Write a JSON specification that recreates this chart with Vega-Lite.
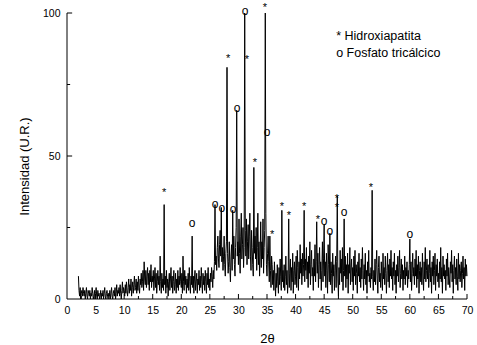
{
"$schema": "https://vega.github.io/schema/vega-lite/v6.json",
"autosize": {"type": "none"},
"width": 400,
"height": 286,
"padding": {"left": 67, "top": 13, "right": 10, "bottom": 46},
"background": "white",
"config": {"view": {"stroke": null}, "font": "Liberation Sans"},
"datasets": {
"xrd": [
{"t":2,"i":8},{"t":2.1,"i":3},{"t":2.2,"i":1},{"t":2.3,"i":4},{"t":2.4,"i":0},{"t":2.5,"i":2},{"t":2.6,"i":3},{"t":2.7,"i":1},{"t":2.8,"i":4},{"t":2.9,"i":2},
{"t":3,"i":1},{"t":3.1,"i":3},{"t":3.2,"i":0},{"t":3.3,"i":2},{"t":3.4,"i":4},{"t":3.5,"i":1},{"t":3.6,"i":0},{"t":3.7,"i":3},{"t":3.8,"i":2},{"t":3.9,"i":1},
{"t":4,"i":3},{"t":4.1,"i":0},{"t":4.2,"i":2},{"t":4.3,"i":1},{"t":4.4,"i":4},{"t":4.5,"i":2},{"t":4.6,"i":0},{"t":4.7,"i":1},{"t":4.8,"i":3},{"t":4.9,"i":0},
{"t":5,"i":2},{"t":5.1,"i":4},{"t":5.2,"i":1},{"t":5.3,"i":0},{"t":5.4,"i":3},{"t":5.5,"i":1},{"t":5.6,"i":2},{"t":5.7,"i":0},{"t":5.8,"i":1},{"t":5.9,"i":3},
{"t":6,"i":0},{"t":6.1,"i":2},{"t":6.2,"i":1},{"t":6.3,"i":3},{"t":6.4,"i":0},{"t":6.5,"i":2},{"t":6.6,"i":4},{"t":6.7,"i":1},{"t":6.8,"i":0},{"t":6.9,"i":2},
{"t":7,"i":3},{"t":7.1,"i":1},{"t":7.2,"i":0},{"t":7.3,"i":2},{"t":7.4,"i":1},{"t":7.5,"i":3},{"t":7.6,"i":0},{"t":7.7,"i":2},{"t":7.8,"i":4},{"t":7.9,"i":1},
{"t":8,"i":0},{"t":8.1,"i":2},{"t":8.2,"i":3},{"t":8.3,"i":1},{"t":8.4,"i":4},{"t":8.5,"i":0},{"t":8.6,"i":2},{"t":8.7,"i":5},{"t":8.8,"i":1},{"t":8.9,"i":3},
{"t":9,"i":2},{"t":9.1,"i":4},{"t":9.2,"i":1},{"t":9.3,"i":5},{"t":9.4,"i":2},{"t":9.5,"i":0},{"t":9.6,"i":3},{"t":9.7,"i":6},{"t":9.8,"i":2},{"t":9.9,"i":4},
{"t":10,"i":3},{"t":10.1,"i":1},{"t":10.2,"i":5},{"t":10.3,"i":2},{"t":10.4,"i":6},{"t":10.5,"i":3},{"t":10.6,"i":1},{"t":10.7,"i":4},{"t":10.8,"i":7},{"t":10.9,"i":2},
{"t":11,"i":5},{"t":11.1,"i":3},{"t":11.2,"i":7},{"t":11.3,"i":1},{"t":11.4,"i":4},{"t":11.5,"i":6},{"t":11.6,"i":2},{"t":11.7,"i":5},{"t":11.8,"i":8},{"t":11.9,"i":3},
{"t":12,"i":4},{"t":12.1,"i":7},{"t":12.2,"i":2},{"t":12.3,"i":6},{"t":12.4,"i":3},{"t":12.5,"i":8},{"t":12.6,"i":4},{"t":12.7,"i":2},{"t":12.8,"i":7},{"t":12.9,"i":5},
{"t":13,"i":9},{"t":13.1,"i":4},{"t":13.2,"i":6},{"t":13.3,"i":10},{"t":13.4,"i":3},{"t":13.5,"i":13},{"t":13.6,"i":7},{"t":13.7,"i":5},{"t":13.8,"i":10},{"t":13.9,"i":4},
{"t":14,"i":8},{"t":14.1,"i":11},{"t":14.2,"i":5},{"t":14.3,"i":9},{"t":14.4,"i":3},{"t":14.5,"i":10},{"t":14.6,"i":6},{"t":14.7,"i":12},{"t":14.8,"i":4},{"t":14.9,"i":8},
{"t":15,"i":6},{"t":15.1,"i":10},{"t":15.2,"i":3},{"t":15.3,"i":7},{"t":15.4,"i":11},{"t":15.5,"i":4},{"t":15.6,"i":9},{"t":15.7,"i":2},{"t":15.8,"i":6},{"t":15.9,"i":10},
{"t":16,"i":5},{"t":16.1,"i":8},{"t":16.2,"i":3},{"t":16.3,"i":15},{"t":16.4,"i":6},{"t":16.5,"i":2},{"t":16.6,"i":9},{"t":16.7,"i":4},{"t":16.8,"i":7},{"t":16.9,"i":3},
{"t":17,"i":33},{"t":17.1,"i":5},{"t":17.2,"i":8},{"t":17.3,"i":2},{"t":17.4,"i":10},{"t":17.5,"i":4},{"t":17.6,"i":7},{"t":17.7,"i":1},{"t":17.8,"i":6},{"t":17.9,"i":9},
{"t":18,"i":3},{"t":18.1,"i":7},{"t":18.2,"i":11},{"t":18.3,"i":4},{"t":18.4,"i":8},{"t":18.5,"i":2},{"t":18.6,"i":6},{"t":18.7,"i":10},{"t":18.8,"i":3},{"t":18.9,"i":5},
{"t":19,"i":9},{"t":19.1,"i":2},{"t":19.2,"i":7},{"t":19.3,"i":4},{"t":19.4,"i":10},{"t":19.5,"i":3},{"t":19.6,"i":8},{"t":19.7,"i":5},{"t":19.8,"i":11},{"t":19.9,"i":6},
{"t":20,"i":4},{"t":20.1,"i":9},{"t":20.2,"i":2},{"t":20.3,"i":15},{"t":20.4,"i":6},{"t":20.5,"i":3},{"t":20.6,"i":10},{"t":20.7,"i":5},{"t":20.8,"i":8},{"t":20.9,"i":2},
{"t":21,"i":7},{"t":21.1,"i":4},{"t":21.2,"i":9},{"t":21.3,"i":3},{"t":21.4,"i":11},{"t":21.5,"i":6},{"t":21.6,"i":2},{"t":21.7,"i":8},{"t":21.8,"i":5},{"t":21.9,"i":22},
{"t":22,"i":4},{"t":22.1,"i":8},{"t":22.2,"i":2},{"t":22.3,"i":7},{"t":22.4,"i":10},{"t":22.5,"i":3},{"t":22.6,"i":6},{"t":22.7,"i":9},{"t":22.8,"i":2},{"t":22.9,"i":7},
{"t":23,"i":5},{"t":23.1,"i":10},{"t":23.2,"i":3},{"t":23.3,"i":8},{"t":23.4,"i":4},{"t":23.5,"i":11},{"t":23.6,"i":6},{"t":23.7,"i":2},{"t":23.8,"i":9},{"t":23.9,"i":5},
{"t":24,"i":8},{"t":24.1,"i":3},{"t":24.2,"i":10},{"t":24.3,"i":6},{"t":24.4,"i":2},{"t":24.5,"i":9},{"t":24.6,"i":5},{"t":24.7,"i":11},{"t":24.8,"i":4},{"t":24.9,"i":7},
{"t":25,"i":3},{"t":25.1,"i":9},{"t":25.2,"i":6},{"t":25.3,"i":11},{"t":25.4,"i":8},{"t":25.5,"i":4},{"t":25.6,"i":10},{"t":25.7,"i":7},{"t":25.8,"i":13},{"t":25.9,"i":33},
{"t":26,"i":12},{"t":26.1,"i":15},{"t":26.2,"i":10},{"t":26.3,"i":18},{"t":26.4,"i":22},{"t":26.5,"i":14},{"t":26.6,"i":11},{"t":26.7,"i":19},{"t":26.8,"i":24},{"t":26.9,"i":15},
{"t":27,"i":32},{"t":27.1,"i":13},{"t":27.2,"i":18},{"t":27.3,"i":10},{"t":27.4,"i":15},{"t":27.5,"i":22},{"t":27.6,"i":12},{"t":27.7,"i":8},{"t":27.8,"i":16},{"t":27.9,"i":20},
{"t":28,"i":81},{"t":28.1,"i":16},{"t":28.2,"i":9},{"t":28.3,"i":13},{"t":28.4,"i":20},{"t":28.5,"i":11},{"t":28.6,"i":6},{"t":28.7,"i":15},{"t":28.8,"i":19},{"t":28.9,"i":10},
{"t":29,"i":31},{"t":29.1,"i":14},{"t":29.2,"i":22},{"t":29.3,"i":12},{"t":29.4,"i":8},{"t":29.5,"i":18},{"t":29.6,"i":25},{"t":29.7,"i":66},{"t":29.8,"i":15},{"t":29.9,"i":20},
{"t":30,"i":12},{"t":30.1,"i":28},{"t":30.2,"i":16},{"t":30.3,"i":9},{"t":30.4,"i":22},{"t":30.5,"i":30},{"t":30.6,"i":14},{"t":30.7,"i":19},{"t":30.8,"i":25},{"t":30.9,"i":11},
{"t":31,"i":18},{"t":31.1,"i":100},{"t":31.2,"i":24},{"t":31.3,"i":15},{"t":31.4,"i":28},{"t":31.5,"i":12},{"t":31.6,"i":20},{"t":31.7,"i":26},{"t":31.8,"i":14},{"t":31.9,"i":22},
{"t":32,"i":30},{"t":32.1,"i":15},{"t":32.2,"i":10},{"t":32.3,"i":24},{"t":32.4,"i":18},{"t":32.5,"i":12},{"t":32.6,"i":8},{"t":32.7,"i":46},{"t":32.8,"i":16},{"t":32.9,"i":22},
{"t":33,"i":14},{"t":33.1,"i":25},{"t":33.2,"i":10},{"t":33.3,"i":18},{"t":33.4,"i":30},{"t":33.5,"i":12},{"t":33.6,"i":20},{"t":33.7,"i":8},{"t":33.8,"i":15},{"t":33.9,"i":27},
{"t":34,"i":11},{"t":34.1,"i":20},{"t":34.2,"i":14},{"t":34.3,"i":28},{"t":34.4,"i":9},{"t":34.5,"i":18},{"t":34.6,"i":24},{"t":34.7,"i":100},{"t":34.8,"i":30},{"t":34.9,"i":12},
{"t":35,"i":8},{"t":35.1,"i":16},{"t":35.2,"i":22},{"t":35.3,"i":13},{"t":35.4,"i":6},{"t":35.5,"i":22},{"t":35.6,"i":10},{"t":35.7,"i":4},{"t":35.8,"i":15},{"t":35.9,"i":12},
{"t":36,"i":5},{"t":36.1,"i":10},{"t":36.2,"i":3},{"t":36.3,"i":13},{"t":36.4,"i":7},{"t":36.5,"i":1},{"t":36.6,"i":9},{"t":36.7,"i":4},{"t":36.8,"i":12},{"t":36.9,"i":6},
{"t":37,"i":2},{"t":37.1,"i":11},{"t":37.2,"i":5},{"t":37.3,"i":14},{"t":37.4,"i":8},{"t":37.5,"i":3},{"t":37.6,"i":31},{"t":37.7,"i":6},{"t":37.8,"i":10},{"t":37.9,"i":4},
{"t":38,"i":12},{"t":38.1,"i":3},{"t":38.2,"i":8},{"t":38.3,"i":15},{"t":38.4,"i":5},{"t":38.5,"i":10},{"t":38.6,"i":2},{"t":38.7,"i":7},{"t":38.8,"i":28},{"t":38.9,"i":4},
{"t":39,"i":9},{"t":39.1,"i":14},{"t":39.2,"i":3},{"t":39.3,"i":11},{"t":39.4,"i":6},{"t":39.5,"i":16},{"t":39.6,"i":2},{"t":39.7,"i":10},{"t":39.8,"i":13},{"t":39.9,"i":5},
{"t":40,"i":8},{"t":40.1,"i":15},{"t":40.2,"i":4},{"t":40.3,"i":17},{"t":40.4,"i":11},{"t":40.5,"i":3},{"t":40.6,"i":13},{"t":40.7,"i":7},{"t":40.8,"i":19},{"t":40.9,"i":9},
{"t":41,"i":14},{"t":41.1,"i":5},{"t":41.2,"i":16},{"t":41.3,"i":8},{"t":41.4,"i":12},{"t":41.5,"i":31},{"t":41.6,"i":6},{"t":41.7,"i":14},{"t":41.8,"i":10},{"t":41.9,"i":18},
{"t":42,"i":7},{"t":42.1,"i":13},{"t":42.2,"i":4},{"t":42.3,"i":15},{"t":42.4,"i":9},{"t":42.5,"i":20},{"t":42.6,"i":5},{"t":42.7,"i":12},{"t":42.8,"i":17},{"t":42.9,"i":8},
{"t":43,"i":11},{"t":43.1,"i":3},{"t":43.2,"i":14},{"t":43.3,"i":8},{"t":43.4,"i":19},{"t":43.5,"i":6},{"t":43.6,"i":13},{"t":43.7,"i":27},{"t":43.8,"i":9},{"t":43.9,"i":16},
{"t":44,"i":4},{"t":44.1,"i":12},{"t":44.2,"i":18},{"t":44.3,"i":7},{"t":44.4,"i":13},{"t":44.5,"i":3},{"t":44.6,"i":10},{"t":44.7,"i":20},{"t":44.8,"i":6},{"t":44.9,"i":14},
{"t":45,"i":26},{"t":45.1,"i":8},{"t":45.2,"i":13},{"t":45.3,"i":4},{"t":45.4,"i":16},{"t":45.5,"i":10},{"t":45.6,"i":2},{"t":45.7,"i":19},{"t":45.8,"i":12},{"t":45.9,"i":6},
{"t":46,"i":23},{"t":46.1,"i":5},{"t":46.2,"i":13},{"t":46.3,"i":9},{"t":46.4,"i":2},{"t":46.5,"i":16},{"t":46.6,"i":8},{"t":46.7,"i":12},{"t":46.8,"i":3},{"t":46.9,"i":10},
{"t":47,"i":15},{"t":47.1,"i":4},{"t":47.2,"i":13},{"t":47.3,"i":36},{"t":47.4,"i":7},{"t":47.5,"i":1},{"t":47.6,"i":11},{"t":47.7,"i":5},{"t":47.8,"i":17},{"t":47.9,"i":9},
{"t":48,"i":14},{"t":48.1,"i":6},{"t":48.2,"i":18},{"t":48.3,"i":3},{"t":48.4,"i":10},{"t":48.5,"i":28},{"t":48.6,"i":8},{"t":48.7,"i":15},{"t":48.8,"i":4},{"t":48.9,"i":12},
{"t":49,"i":7},{"t":49.1,"i":16},{"t":49.2,"i":2},{"t":49.3,"i":12},{"t":49.4,"i":9},{"t":49.5,"i":18},{"t":49.6,"i":5},{"t":49.7,"i":11},{"t":49.8,"i":14},{"t":49.9,"i":6},
{"t":50,"i":11},{"t":50.1,"i":3},{"t":50.2,"i":15},{"t":50.3,"i":8},{"t":50.4,"i":17},{"t":50.5,"i":5},{"t":50.6,"i":12},{"t":50.7,"i":9},{"t":50.8,"i":2},{"t":50.9,"i":13},
{"t":51,"i":8},{"t":51.1,"i":16},{"t":51.2,"i":6},{"t":51.3,"i":11},{"t":51.4,"i":4},{"t":51.5,"i":14},{"t":51.6,"i":7},{"t":51.7,"i":18},{"t":51.8,"i":10},{"t":51.9,"i":3},
{"t":52,"i":12},{"t":52.1,"i":7},{"t":52.2,"i":16},{"t":52.3,"i":5},{"t":52.4,"i":10},{"t":52.5,"i":2},{"t":52.6,"i":13},{"t":52.7,"i":8},{"t":52.8,"i":17},{"t":52.9,"i":6},
{"t":53,"i":9},{"t":53.1,"i":4},{"t":53.2,"i":11},{"t":53.3,"i":7},{"t":53.4,"i":38},{"t":53.5,"i":8},{"t":53.6,"i":3},{"t":53.7,"i":10},{"t":53.8,"i":6},{"t":53.9,"i":14},
{"t":54,"i":5},{"t":54.1,"i":12},{"t":54.2,"i":17},{"t":54.3,"i":7},{"t":54.4,"i":2},{"t":54.5,"i":11},{"t":54.6,"i":15},{"t":54.7,"i":6},{"t":54.8,"i":9},{"t":54.9,"i":4},
{"t":55,"i":13},{"t":55.1,"i":8},{"t":55.2,"i":3},{"t":55.3,"i":16},{"t":55.4,"i":7},{"t":55.5,"i":11},{"t":55.6,"i":5},{"t":55.7,"i":15},{"t":55.8,"i":9},{"t":55.9,"i":2},
{"t":56,"i":10},{"t":56.1,"i":16},{"t":56.2,"i":6},{"t":56.3,"i":12},{"t":56.4,"i":4},{"t":56.5,"i":14},{"t":56.6,"i":8},{"t":56.7,"i":17},{"t":56.8,"i":7},{"t":56.9,"i":11},
{"t":57,"i":3},{"t":57.1,"i":13},{"t":57.2,"i":8},{"t":57.3,"i":16},{"t":57.4,"i":5},{"t":57.5,"i":10},{"t":57.6,"i":2},{"t":57.7,"i":12},{"t":57.8,"i":8},{"t":57.9,"i":15},
{"t":58,"i":6},{"t":58.1,"i":11},{"t":58.2,"i":17},{"t":58.3,"i":4},{"t":58.4,"i":9},{"t":58.5,"i":14},{"t":58.6,"i":7},{"t":58.7,"i":12},{"t":58.8,"i":3},{"t":58.9,"i":10},
{"t":59,"i":7},{"t":59.1,"i":15},{"t":59.2,"i":5},{"t":59.3,"i":11},{"t":59.4,"i":8},{"t":59.5,"i":13},{"t":59.6,"i":4},{"t":59.7,"i":10},{"t":59.8,"i":7},{"t":59.9,"i":12},
{"t":60,"i":21},{"t":60.1,"i":6},{"t":60.2,"i":13},{"t":60.3,"i":3},{"t":60.4,"i":9},{"t":60.5,"i":16},{"t":60.6,"i":8},{"t":60.7,"i":11},{"t":60.8,"i":5},{"t":60.9,"i":14},
{"t":61,"i":8},{"t":61.1,"i":17},{"t":61.2,"i":4},{"t":61.3,"i":12},{"t":61.4,"i":7},{"t":61.5,"i":15},{"t":61.6,"i":2},{"t":61.7,"i":10},{"t":61.8,"i":13},{"t":61.9,"i":6},
{"t":62,"i":11},{"t":62.1,"i":5},{"t":62.2,"i":16},{"t":62.3,"i":8},{"t":62.4,"i":3},{"t":62.5,"i":13},{"t":62.6,"i":7},{"t":62.7,"i":18},{"t":62.8,"i":6},{"t":62.9,"i":10},
{"t":63,"i":14},{"t":63.1,"i":7},{"t":63.2,"i":12},{"t":63.3,"i":4},{"t":63.4,"i":9},{"t":63.5,"i":17},{"t":63.6,"i":6},{"t":63.7,"i":11},{"t":63.8,"i":2},{"t":63.9,"i":13},
{"t":64,"i":8},{"t":64.1,"i":15},{"t":64.2,"i":5},{"t":64.3,"i":10},{"t":64.4,"i":16},{"t":64.5,"i":3},{"t":64.6,"i":12},{"t":64.7,"i":8},{"t":64.8,"i":14},{"t":64.9,"i":6},
{"t":65,"i":9},{"t":65.1,"i":4},{"t":65.2,"i":13},{"t":65.3,"i":7},{"t":65.4,"i":18},{"t":65.5,"i":6},{"t":65.6,"i":11},{"t":65.7,"i":2},{"t":65.8,"i":15},{"t":65.9,"i":8},
{"t":66,"i":12},{"t":66.1,"i":7},{"t":66.2,"i":10},{"t":66.3,"i":3},{"t":66.4,"i":14},{"t":66.5,"i":8},{"t":66.6,"i":16},{"t":66.7,"i":5},{"t":66.8,"i":11},{"t":66.9,"i":7},
{"t":67,"i":4},{"t":67.1,"i":13},{"t":67.2,"i":9},{"t":67.3,"i":17},{"t":67.4,"i":6},{"t":67.5,"i":12},{"t":67.6,"i":2},{"t":67.7,"i":10},{"t":67.8,"i":15},{"t":67.9,"i":7},
{"t":68,"i":11},{"t":68.1,"i":5},{"t":68.2,"i":14},{"t":68.3,"i":8},{"t":68.4,"i":3},{"t":68.5,"i":16},{"t":68.6,"i":7},{"t":68.7,"i":12},{"t":68.8,"i":6},{"t":68.9,"i":10},
{"t":69,"i":13},{"t":69.1,"i":4},{"t":69.2,"i":9},{"t":69.3,"i":15},{"t":69.4,"i":7},{"t":69.5,"i":11},{"t":69.6,"i":3},{"t":69.7,"i":14},{"t":69.8,"i":8},{"t":69.9,"i":12},
{"t":70,"i":8}
],
"labels": [
{"t":17,"i":38.1,"s":"*"},
{"t":21.9,"i":26.6,"s":"o"},
{"t":25.9,"i":33.2,"s":"o"},
{"t":27.1,"i":31.8,"s":"o"},
{"t":28.2,"i":85,"s":"*"},
{"t":29.05,"i":31.5,"s":"o"},
{"t":29.75,"i":66.8,"s":"o"},
{"t":31.15,"i":100.7,"s":"o"},
{"t":31.5,"i":84.6,"s":"*"},
{"t":32.9,"i":48.6,"s":"*"},
{"t":34.65,"i":102.8,"s":"*"},
{"t":35,"i":58.4,"s":"o"},
{"t":35.9,"i":23.4,"s":"*"},
{"t":37.6,"i":33.2,"s":"*"},
{"t":38.85,"i":30.1,"s":"*"},
{"t":41.5,"i":33.2,"s":"*"},
{"t":43.9,"i":28.7,"s":"*"},
{"t":45,"i":27.3,"s":"o"},
{"t":46,"i":23.8,"s":"o"},
{"t":47.25,"i":36,"s":"*"},
{"t":47.25,"i":33,"s":"*"},
{"t":48.5,"i":30.4,"s":"o"},
{"t":53.2,"i":39.9,"s":"*"},
{"t":60,"i":22.7,"s":"o"}
],
"legend": [
{"t":47.1,"i":90.6,"txt":"* Hidroxiapatita"},
{"t":47.1,"i":84.5,"txt":"o Fosfato tricálcico"}
],
"frame": [
{"g":"ax","t":0,"i":0},{"g":"ax","t":70,"i":0},
{"g":"ay","t":0,"i":0},{"g":"ay","t":0,"i":100},
{"g":"x1","t":2.5,"i":0},{"g":"x1","t":2.5,"i":1.05},
{"g":"x2","t":5,"i":0},{"g":"x2","t":5,"i":1.75},
{"g":"x3","t":7.5,"i":0},{"g":"x3","t":7.5,"i":1.05},
{"g":"x4","t":10,"i":0},{"g":"x4","t":10,"i":1.75},
{"g":"x5","t":12.5,"i":0},{"g":"x5","t":12.5,"i":1.05},
{"g":"x6","t":15,"i":0},{"g":"x6","t":15,"i":1.75},
{"g":"x7","t":17.5,"i":0},{"g":"x7","t":17.5,"i":1.05},
{"g":"x8","t":20,"i":0},{"g":"x8","t":20,"i":1.75},
{"g":"x9","t":22.5,"i":0},{"g":"x9","t":22.5,"i":1.05},
{"g":"x10","t":25,"i":0},{"g":"x10","t":25,"i":1.75},
{"g":"x11","t":27.5,"i":0},{"g":"x11","t":27.5,"i":1.05},
{"g":"x12","t":30,"i":0},{"g":"x12","t":30,"i":1.75},
{"g":"x13","t":32.5,"i":0},{"g":"x13","t":32.5,"i":1.05},
{"g":"x14","t":35,"i":0},{"g":"x14","t":35,"i":1.75},
{"g":"x15","t":37.5,"i":0},{"g":"x15","t":37.5,"i":1.05},
{"g":"x16","t":40,"i":0},{"g":"x16","t":40,"i":1.75},
{"g":"x17","t":42.5,"i":0},{"g":"x17","t":42.5,"i":1.05},
{"g":"x18","t":45,"i":0},{"g":"x18","t":45,"i":1.75},
{"g":"x19","t":47.5,"i":0},{"g":"x19","t":47.5,"i":1.05},
{"g":"x20","t":50,"i":0},{"g":"x20","t":50,"i":1.75},
{"g":"x21","t":52.5,"i":0},{"g":"x21","t":52.5,"i":1.05},
{"g":"x22","t":55,"i":0},{"g":"x22","t":55,"i":1.75},
{"g":"x23","t":57.5,"i":0},{"g":"x23","t":57.5,"i":1.05},
{"g":"x24","t":60,"i":0},{"g":"x24","t":60,"i":1.75},
{"g":"x25","t":62.5,"i":0},{"g":"x25","t":62.5,"i":1.05},
{"g":"x26","t":65,"i":0},{"g":"x26","t":65,"i":1.75},
{"g":"x27","t":67.5,"i":0},{"g":"x27","t":67.5,"i":1.05},
{"g":"x28","t":70,"i":0},{"g":"x28","t":70,"i":1.75},
{"g":"y1","t":0,"i":25},{"g":"y1","t":0.55,"i":25},
{"g":"y2","t":0,"i":50},{"g":"y2","t":0.9,"i":50},
{"g":"y3","t":0,"i":75},{"g":"y3","t":0.55,"i":75},
{"g":"y4","t":0,"i":100},{"g":"y4","t":0.9,"i":100}
]
},
"encoding": {
"x": {"field": "t", "type": "quantitative", "title": "2θ",
"scale": {"domain": [0, 70], "nice": false, "zero": false},
"axis": {"values": [0,5,10,15,20,25,30,35,40,45,50,55,60,65,70],
"domain": false, "ticks": false,
"labelPadding": 6, "labelFlush": false, "labelOverlap": false, "grid": false,
"labelColor": "black",
"labelFont": "Liberation Sans", "labelFontSize": 10.5,
"titleFont": "Liberation Sans", "titleFontSize": 13, "titleFontWeight": "normal", "titleColor": "black",
"titleX": 200, "titleY": 43, "titleBaseline": "alphabetic"}},
"y": {"field": "i", "type": "quantitative", "title": "Intensidad (U.R.)",
"scale": {"domain": [0, 100], "nice": false},
"axis": {"values": [0,50,100],
"domain": false, "ticks": false,
"labelPadding": 7, "labelOverlap": false, "labelFlush": false, "grid": false,
"labelColor": "black",
"labelFont": "Liberation Sans", "labelFontSize": 10.5,
"titleFont": "Liberation Sans", "titleFontSize": 13, "titleFontWeight": "normal", "titleColor": "black",
"titleX": -39, "titleY": 153, "titleBaseline": "alphabetic", "titleAlign": "center", "titleAngle": -90}}
},
"layer": [
{
"data": {"name": "xrd"},
"mark": {"type": "line", "color": "black", "strokeWidth": 1}
},
{
"data": {"name": "frame"},
"mark": {"type": "line", "color": "black", "strokeWidth": 1, "opacity": 1, "strokeOpacity": 1},
"encoding": {"detail": {"field": "g", "type": "nominal"}}
},
{
"data": {"name": "labels"},
"transform": [{"filter": "datum.s === '*'"}],
"mark": {"type": "text", "font": "Liberation Sans", "fontSize": 11, "fill": "black", "baseline": "middle", "align": "center", "dy": 3, "clip": false},
"encoding": {"text": {"field": "s"}}
},
{
"data": {"name": "labels"},
"transform": [{"filter": "datum.s === 'o'"}],
"mark": {"type": "text", "font": "Liberation Sans", "fontSize": 12, "fill": "black", "baseline": "middle", "align": "center", "clip": false},
"encoding": {"text": {"field": "s"}}
},
{
"data": {"name": "legend"},
"mark": {"type": "text", "font": "Liberation Sans", "fontSize": 12.5, "fill": "black", "baseline": "alphabetic", "align": "left"},
"encoding": {"text": {"field": "txt"}}
}
]
}
